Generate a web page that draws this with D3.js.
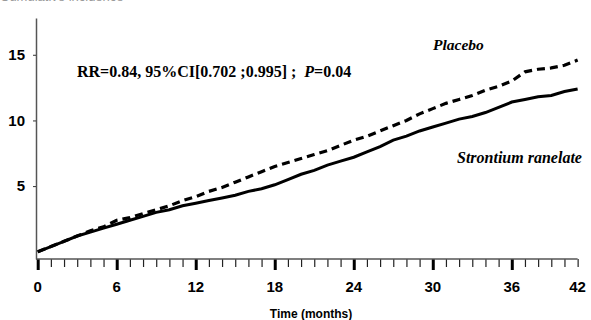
<!doctype html>
<html lang="en">
<head>
<meta charset="utf-8">
<title>Cumulative incidence</title>
<script src="https://d3js.org/d3.v7.min.js"></script>
<style>
  body { margin: 0; background: #fff; }
  svg { display: block; }
  .tick text { font-family: "Liberation Sans", Arial, sans-serif; font-weight: bold; font-size: 15px; fill: #000; }
  .ann { font-family: "Liberation Serif", "Times New Roman", serif; font-weight: bold; fill: #000; white-space: pre; }
</style>
</head>
<body>
<svg id="chart" width="591" height="320"></svg>
<script>
// months 0..41
const months = d3.range(0, 42);
// cumulative incidence (%)
const placebo = [0, 0.4, 0.8, 1.2, 1.6, 1.9, 2.4, 2.6, 2.9, 3.2, 3.5, 3.9, 4.2, 4.6, 4.9, 5.3,
  5.7, 6.1, 6.5, 6.8, 7.1, 7.4, 7.7, 8.1, 8.5, 8.8, 9.2, 9.6, 10.0, 10.5, 10.9, 11.3,
  11.6, 11.9, 12.3, 12.6, 13.0, 13.7, 13.9, 14.0, 14.2, 14.6];
const strontium = [0, 0.4, 0.8, 1.2, 1.5, 1.8, 2.1, 2.4, 2.7, 3.0, 3.2, 3.5, 3.7, 3.9, 4.1, 4.3,
  4.6, 4.8, 5.1, 5.5, 5.9, 6.2, 6.6, 6.9, 7.2, 7.6, 8.0, 8.5, 8.8, 9.2, 9.5, 9.8,
  10.1, 10.3, 10.6, 11.0, 11.4, 11.6, 11.8, 11.9, 12.2, 12.4];
const yTicks = [5, 10, 15];
const xMajor = [0, 6, 12, 18, 24, 30, 36];
const xLabels = [0, 6, 12, 18, 24, 30, 36, 42];

const svg = d3.select("#chart");

const x = d3.scaleLinear().domain([0, 42]).range([37.7, 590.8]);
const y = d3.scaleLinear().domain([-0.55, 17.8]).range([259, 18]);
const xEnd = x(41);

// y axis
const gy = svg.append("g").attr("transform", "translate(36,0)")
  .call(d3.axisLeft(y).tickValues(yTicks).tickSize(3).tickSizeOuter(0).tickPadding(8));
gy.select(".domain").attr("stroke", "#555").attr("stroke-width", 1.5);
gy.selectAll(".tick line").attr("stroke", "#333");

// x axis: minor ticks each month, thick ticks every 6 months
const gx = svg.append("g").attr("transform", "translate(0,259)")
  .call(d3.axisBottom(x).tickValues(months).tickSize(8).tickFormat(""));
gx.select(".domain").remove();
gx.selectAll(".tick line").attr("stroke", "#222").attr("stroke-width", 1.2);

const gxMaj = svg.append("g").attr("transform", "translate(0,259)")
  .call(d3.axisBottom(x).tickValues(xMajor).tickSize(11).tickFormat(""));
gxMaj.select(".domain").remove();
gxMaj.selectAll(".tick line").attr("stroke", "#000").attr("stroke-width", 3);

svg.append("line")
  .attr("x1", 36).attr("x2", xEnd).attr("y1", 259).attr("y2", 259)
  .attr("stroke", "#555").attr("stroke-width", 1.5);

svg.append("g").selectAll("text").data(xLabels).join("text")
  .attr("x", d => Math.min(x(d), xEnd))
  .attr("y", 292)
  .attr("text-anchor", "middle")
  .style("font-family", "'Liberation Sans', Arial, sans-serif")
  .style("font-weight", "bold").style("font-size", "15px")
  .text(d => d);

svg.append("text")
  .attr("x", 311).attr("y", 318).attr("text-anchor", "middle")
  .style("font-family", "'Liberation Sans', Arial, sans-serif")
  .style("font-weight", "bold").style("font-size", "12px")
  .text("Time (months)");

// y title, cut off by the top edge as in the source image
svg.append("text")
  .attr("x", 0).attr("y", 1)
  .style("font-family", "'Liberation Sans', Arial, sans-serif")
  .style("font-size", "13px").attr("fill", "#999")
  .text("Cumulative incidence");

// curves
const line = d3.line().x((d, i) => x(months[i])).y(d => y(d));

svg.append("path").datum(placebo)
  .attr("d", line).attr("fill", "none").attr("stroke", "#000")
  .attr("stroke-width", 3.2).attr("stroke-dasharray", "8,5");

svg.append("path").datum(strontium)
  .attr("d", line).attr("fill", "none").attr("stroke", "#000")
  .attr("stroke-width", 3);

// annotations
const rr = svg.append("text").attr("class", "ann").attr("x", 77).attr("y", 76.5)
  .style("font-size", "16px");
rr.append("tspan").text("RR=0.84, 95%CI[0.702 ;0.995] ;  ");
rr.append("tspan").style("font-style", "italic").text("P");
rr.append("tspan").text("=0.04");

svg.append("text").attr("class", "ann").attr("x", 433).attr("y", 50)
  .style("font-size", "15.5px").style("font-style", "italic").text("Placebo");

svg.append("text").attr("class", "ann").attr("x", 457).attr("y", 162.5)
  .style("font-size", "16px").style("font-style", "italic").text("Strontium ranelate");
</script>
</body>
</html>
